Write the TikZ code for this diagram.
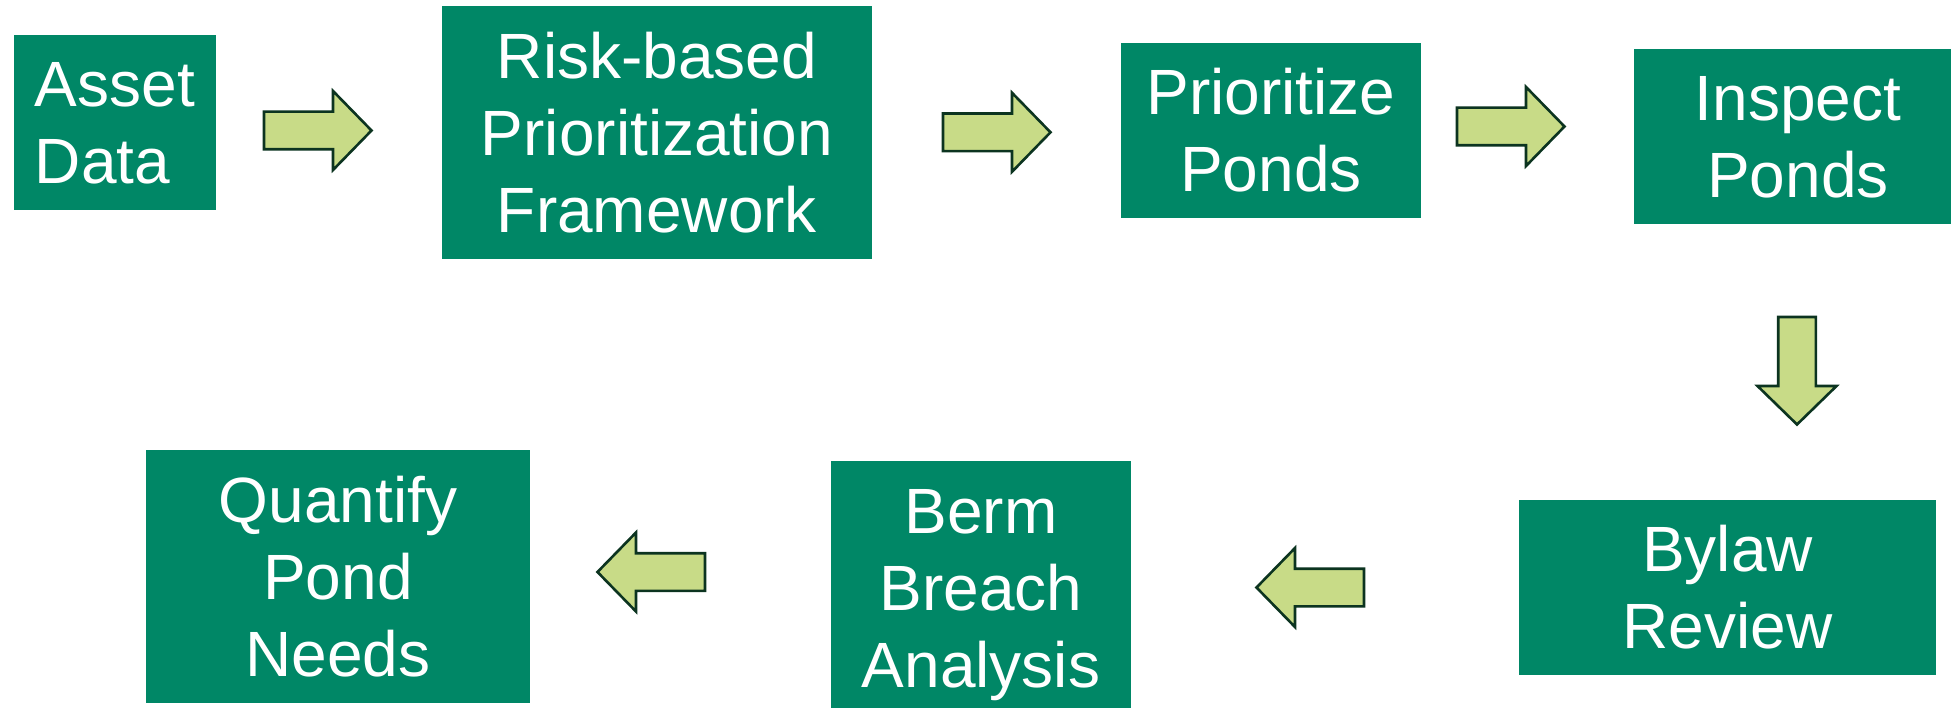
\documentclass[tikz,border=0pt]{standalone}
\usepackage{fontspec}
\setmainfont{Liberation Sans}
\definecolor{boxgreen}{RGB}{0,135,102}
\definecolor{arrowfill}{RGB}{200,219,135}
\definecolor{arrowline}{RGB}{12,52,32}
\newcommand\fl[1]{\rule{0pt}{45.8pt}\smash{#1}}
\newcommand\ol[1]{\smash{#1}}
\tikzset{
  stepbox/.style={fill=boxgreen, text=white, inner sep=0pt, outer sep=0pt,
    font=\fontsize{64}{77}\selectfont, align=center},
  barrow/.pic={\draw[fill=arrowfill, draw=arrowline, line width=2.6pt, miter limit=10]
    (0,18.8) -- (69,18.8) -- (69,39.5) -- (107.5,0) -- (69,-39.5) -- (69,-18.8) -- (0,-18.8) -- cycle;}
}
\begin{document}
\begin{tikzpicture}[x=1pt,y=-1pt]
\useasboundingbox (0,0) rectangle (1951,708);
\clip (0,0) rectangle (1951,708);
\fill[white] (0,0) rectangle (1951,708);
% boxes
\node[stepbox, align=left, minimum width=202pt, minimum height=175pt] (asset) at (115,122.5) {\fl{Asset}\\\ol{Data}};
\node[stepbox, minimum width=430pt, minimum height=253pt] (risk) at (657,132.5) {\fl{Risk-based}\\\ol{Prioritization}\\\ol{Framework}};
\node[stepbox, minimum width=300pt, minimum height=175pt] (prio) at (1271,130.5) {\fl{Prioritize}\\\ol{Ponds}};
\node[stepbox, minimum width=328pt, minimum height=175pt] (insp) at (1798,136.5) {\fl{Inspect}\\\ol{Ponds}};
\node[stepbox, minimum width=417pt, minimum height=175pt] (bylaw) at (1727.5,587.5) {\fl{Bylaw}\\\ol{Review}};
\node[stepbox, minimum width=300pt, minimum height=253pt] (berm) at (981,587.5) {\fl{Berm}\\\ol{Breach}\\\ol{Analysis}};
\node[stepbox, minimum width=384pt, minimum height=253pt] (quant) at (338,576.5) {\fl{Quantify}\\\ol{Pond}\\\ol{Needs}};
% block arrows
\pic at (264,130.5) {barrow};
\pic at (943,132.3) {barrow};
\pic at (1457,126.5) {barrow};
\pic[rotate=-90] at (1797,317) {barrow};
\pic[rotate=180] at (1364,587.5) {barrow};
\pic[rotate=180] at (705,572) {barrow};
\end{tikzpicture}
\end{document}
